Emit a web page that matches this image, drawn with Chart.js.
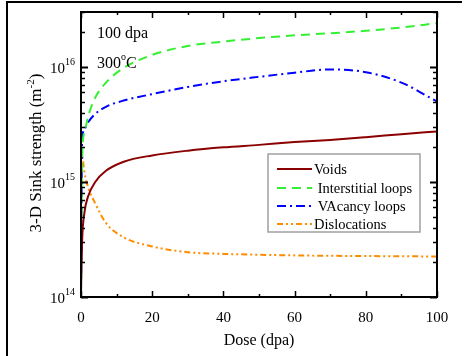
<!DOCTYPE html>
<html>
<head>
<meta charset="utf-8">
<script src="https://cdn.jsdelivr.net/npm/chart.js@4/dist/chart.umd.min.js"></script>
<style>
  html, body { margin: 0; padding: 0; background: #fff; }
  #wrap { width: 465px; height: 356px; }
</style>
</head>
<body>
<div id="wrap"><canvas id="grafico" width="465" height="356"></canvas></div>
<script>
// dados
const dose = [0, 0.3, 1, 2, 4, 7, 12, 20, 30, 40, 50, 60, 70, 80, 90, 100];
const voids = [1.1e14, 3e14, 5.5e14, 7.5e14, 1.0e15, 1.25e15, 1.5e15, 1.7e15, 1.87e15, 2.0e15, 2.1e15, 2.22e15, 2.32e15, 2.45e15, 2.6e15, 2.75e15];
const interstitialLoops = [1.1e14, 1.6e15, 2.7e15, 3.7e15, 5.4e15, 7.3e15, 9.8e15, 1.27e16, 1.52e16, 1.66e16, 1.78e16, 1.88e16, 1.96e16, 2.06e16, 2.2e16, 2.4e16];
const vacancyLoops = [1.1e14, 2.2e15, 2.9e15, 3.3e15, 3.9e15, 4.5e15, 5.1e15, 5.8e15, 6.7e15, 7.5e15, 8.2e15, 8.9e15, 9.5e15, 9.0e15, 7.3e15, 5.0e15];
const dislocations = [2.2e15, 1.8e15, 1.2e15, 9e14, 6.5e14, 4.4e14, 3.3e14, 2.75e14, 2.45e14, 2.37e14, 2.33e14, 2.3e14, 2.28e14, 2.27e14, 2.26e14, 2.25e14];
const seriesLabels = ['Voids', ' Interstitial loops', ' VAcancy loops', 'Dislocations'];
const xTicks = [0, 20, 40, 60, 80, 100];
const yDecades = [14, 15, 16];

const cores = {
    vermelhoEscuro: '#8b0000',
    verde: '#33f033',
    azul: '#0000ff',
    laranja: '#ff8c00'
};

const fonteSerif = "'Liberation Serif', 'Times New Roman', serif";

function pontos(valores) {
    return dose.map((d, i) => ({ x: d, y: valores[i] }));
}

// ticks para dentro, caixa, rotulos com expoente, legenda e textos
const desenhoExtra = {
    id: 'desenhoExtra',
    afterDatasetsDraw(chart) {
        const ctx = chart.ctx;
        const area = chart.chartArea;
        const sx = chart.scales.x;
        const sy = chart.scales.y;
        ctx.save();

        // caixa do grafico
        ctx.strokeStyle = '#000';
        ctx.lineWidth = 2;
        ctx.strokeRect(area.left, area.top, area.right - area.left, area.bottom - area.top);

        // ticks do eixo x (maior a cada 20, menor a cada 10)
        ctx.lineWidth = 1.5;
        for (let v = 0; v <= 100; v += 10) {
            const px = Math.round(sx.getPixelForValue(v)) + 0.5;
            const len = v % 20 === 0 ? 6 : 3;
            ctx.beginPath();
            ctx.moveTo(px, area.bottom); ctx.lineTo(px, area.bottom - len);
            ctx.moveTo(px, area.top); ctx.lineTo(px, area.top + len);
            ctx.stroke();
        }

        // ticks do eixo y logaritmico
        for (let e = 14; e <= 16; e++) {
            for (let m = 1; m <= 9; m++) {
                const v = m * Math.pow(10, e);
                if (v > sy.max) break;
                const py = Math.round(sy.getPixelForValue(v)) + 0.5;
                const len = m === 1 ? 7 : 4;
                ctx.lineWidth = m === 1 ? 2 : 1.5;
                ctx.beginPath();
                ctx.moveTo(area.left, py); ctx.lineTo(area.left + len, py);
                ctx.moveTo(area.right, py); ctx.lineTo(area.right - len, py);
                ctx.stroke();
            }
        }

        // rotulos do eixo y: 10 com expoente
        ctx.fillStyle = '#000';
        ctx.textBaseline = 'alphabetic';
        yDecades.forEach(e => {
            const py = sy.getPixelForValue(Math.pow(10, e));
            ctx.font = '15px ' + fonteSerif;
            ctx.textAlign = 'right';
            ctx.fillText('10', 65, py + 6);
            ctx.font = '10px ' + fonteSerif;
            ctx.textAlign = 'left';
            ctx.fillText(String(e), 65, py - 2);
        });

        // titulo do eixo y, girado
        ctx.save();
        ctx.translate(41, 153);
        ctx.rotate(-Math.PI / 2);
        ctx.font = '17px ' + fonteSerif;
        const t1 = '3-D Sink strength (m';
        const t2 = '-2';
        const t3 = ')';
        ctx.font = '17px ' + fonteSerif;
        const w1 = ctx.measureText(t1).width;
        const w3 = ctx.measureText(t3).width;
        ctx.font = '11px ' + fonteSerif;
        const w2 = ctx.measureText(t2).width;
        let x0 = -(w1 + w2 + w3) / 2;
        ctx.textAlign = 'left';
        ctx.font = '17px ' + fonteSerif;
        ctx.fillText(t1, x0, 0);
        ctx.font = '11px ' + fonteSerif;
        ctx.fillText(t2, x0 + w1, -7);
        ctx.font = '17px ' + fonteSerif;
        ctx.fillText(t3, x0 + w1 + w2, 0);
        ctx.restore();

        // anotacao
        ctx.font = '16px ' + fonteSerif;
        ctx.textAlign = 'left';
        ctx.fillText('100 dpa', 97, 38);
        ctx.fillText('300', 97, 68);
        const w300 = ctx.measureText('300').width;
        ctx.font = '10px ' + fonteSerif;
        ctx.fillText('o', 97 + w300, 60);
        const wo = ctx.measureText('o').width;
        ctx.font = '16px ' + fonteSerif;
        ctx.fillText('C', 97 + w300 + wo, 68);

        // legenda
        const lx = 268, ly = 154, lw = 152, lh = 78;
        ctx.fillStyle = '#fff';
        ctx.fillRect(lx, ly, lw, lh);
        ctx.strokeStyle = '#a0a0a0';
        ctx.lineWidth = 1.5;
        ctx.strokeRect(lx, ly, lw, lh);
        const linhas = [169, 188, 206, 224];
        chart.data.datasets.forEach((ds, i) => {
            const y = linhas[i];
            ctx.strokeStyle = ds.borderColor;
            ctx.lineWidth = ds.borderWidth;
            ctx.setLineDash(ds.borderDash || []);
            ctx.beginPath();
            ctx.moveTo(277, y); ctx.lineTo(312, y);
            ctx.stroke();
            ctx.setLineDash([]);
            ctx.fillStyle = '#000';
            ctx.font = '14.5px ' + fonteSerif;
            ctx.textBaseline = 'middle';
            ctx.fillText(ds.label, 314, y + 1);
        });
        ctx.restore();
    },
    afterDraw(chart) {
        // moldura externa da figura (esquerda e topo)
        const ctx = chart.ctx;
        ctx.save();
        ctx.strokeStyle = '#000';
        ctx.lineWidth = 2;
        ctx.beginPath();
        ctx.moveTo(7, 356); ctx.lineTo(7, 2); ctx.lineTo(462, 2);
        ctx.stroke();
        ctx.restore();
    }
};

const ctx = document.getElementById('grafico');

new Chart(ctx, {
    type: 'line',
    data: {
        datasets: [
            {
                label: seriesLabels[0],
                data: pontos(voids),
                borderColor: cores.vermelhoEscuro,
                borderWidth: 2,
                cubicInterpolationMode: 'monotone'
            },
            {
                label: seriesLabels[1],
                data: pontos(interstitialLoops),
                borderColor: cores.verde,
                borderWidth: 2,
                borderDash: [9, 6],
                cubicInterpolationMode: 'monotone'
            },
            {
                label: seriesLabels[2],
                data: pontos(vacancyLoops),
                borderColor: cores.azul,
                borderWidth: 2,
                borderDash: [9, 4, 2, 4],
                cubicInterpolationMode: 'monotone'
            },
            {
                label: seriesLabels[3],
                data: pontos(dislocations),
                borderColor: cores.laranja,
                borderWidth: 2,
                borderDash: [6, 3, 2, 3, 2, 3],
                cubicInterpolationMode: 'monotone'
            }
        ]
    },
    options: {
        responsive: false,
        animation: false,
        devicePixelRatio: 1,
        pointRadius: 0,
        elements: { point: { radius: 0 } },
        layout: { padding: { left: 0, right: 28, top: 12, bottom: 0 } },
        plugins: {
            legend: { display: false },
            tooltip: { enabled: false }
        },
        scales: {
            x: {
                type: 'linear',
                min: 0,
                max: 100,
                afterBuildTicks: scale => { scale.ticks = xTicks.map(v => ({ value: v })); },
                afterFit: scale => { scale.height = 59; },
                grid: { display: false, drawTicks: false },
                border: { display: false },
                ticks: {
                    color: '#000',
                    padding: 12,
                    maxRotation: 0,
                    font: { family: fonteSerif, size: 15 }
                },
                title: {
                    display: true,
                    text: 'Dose (dpa)',
                    color: '#000',
                    font: { family: fonteSerif, size: 16 },
                    padding: { top: 6, bottom: 6 }
                }
            },
            y: {
                type: 'logarithmic',
                min: 1e14,
                max: 3e16,
                afterFit: scale => { scale.width = 81; },
                grid: { display: false, drawTicks: false },
                border: { display: false },
                ticks: { display: false }
            }
        }
    },
    plugins: [desenhoExtra]
});
</script>
</body>
</html>
